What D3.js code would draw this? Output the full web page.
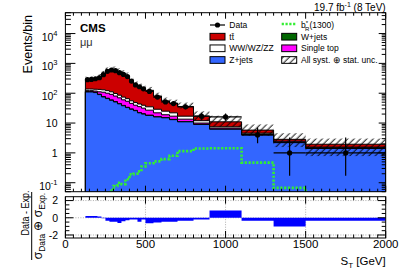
<!DOCTYPE html>
<html>
<head>
<meta charset="utf-8">
<script src="https://cdn.jsdelivr.net/npm/d3@7"></script>
<style>
body { margin: 0; background: #fff; }
text { font-family: "Liberation Sans", Arial, Helvetica, sans-serif; }
</style>
</head>
<body>
<script>
// bins (GeV)
const binEdges = [125,150,175,200,225,250,275,300,325,350,375,400,425,450,475,500,550,600,650,700,800,900,1100,1300,1500,2000];

// backgrounds, events/bin
const zJets     = [110,110,105,90,75,66,58,51,44,38,33,29,26,22,20,18,16,15,13,11,9,6.2,4.0,2.2,1.4];
const wJets     = [3,3,3,2.5,2,2,1.5,1.2,1,1,0.8,0.7,0.6,0.5,0.5,0.4,0.3,0.3,0.3,0.2,0.15,0.1,0.05,0.03,0.02];
const singleTop = [9,9,10,19,31,32,32,28,25,21,20,16,13,13,11,8.6,5.7,3.7,3.7,2.3,0.85,0.5,0.25,0.12,0.08];
const diboson   = [16,16,18,23,22,22,20,18,16,14,12,10,9,8,8,8,7,6,5,3.5,2,0.7,0.3,0.1,0.06];
const ttbar     = [139,142,164,205,300,438,518,502,434,376,314,214,151,126,110,90,51,30,25,19,5,3.5,1.2,0.4,0.39];

// relative uncertainty on the total (up / down)
const uncUp   = [0.3,0.3,0.3,0.3,0.3,0.3,0.3,0.3,0.3,0.3,0.3,0.3,0.3,0.3,0.3,0.3,0.3,0.3,0.3,0.35,0.45,0.6,0.55,0.6,0.55];
const uncDown = [0.1,0.1,0.1,0.1,0.1,0.1,0.1,0.1,0.1,0.1,0.1,0.1,0.1,0.1,0.1,0.12,0.12,0.12,0.12,0.15,0.3,0.32,0.35,0.45,0.6];

// signal b*_R (1300)
const signal = [0.02,0.02,0.02,0.02,0.02,0.02,0.055,0.078,0.10,0.09,0.13,0.19,0.20,0.24,0.35,0.45,0.52,0.62,0.80,1.15,1.4,1.43,0.47,0.067,0.02];

// observed
const dataCounts = [285,290,305,330,420,540,600,570,490,425,360,255,190,165,140,115,74,51,45,35,17,16,4,1,1];

// (data - exp) / (sigma_data (+) sigma_exp)
const pull = [0.2,0.2,0.2,0.15,-0.05,-0.35,-0.45,-0.45,-0.6,-0.4,-0.3,-0.2,-0.2,-0.45,-0.2,-0.65,-0.55,-0.45,-0.45,-0.35,-0.2,0.85,-0.35,-1.0,-0.35];

const xTickValues = [0,500,1000,1500,2000];
const yTickValues = [0.1,1,10,100,1000,10000];
const yTickLabels = [["10","-1"],["1",""],["10",""],["10","2"],["10","3"],["10","4"]];
const ratioTickValues = [-2,0,2];

const W = 407, H = 276;
const left = 65.4, right = 385.7;
const mainTop = 12.7, mainBottom = 191.7;
const ratioTop = 196.7, ratioBottom = 238;

const x = d3.scaleLinear().domain([0, 2000]).range([left, right]);
const y = d3.scaleLog().domain([0.05, 5e4]).range([mainBottom, mainTop]);
const yr = d3.scaleLinear().domain([-2.35, 2.45]).range([ratioBottom, ratioTop]);

const svg = d3.select("body").append("svg")
    .attr("width", W)
    .attr("height", H);

svg.append("rect").attr("width", W).attr("height", H).attr("fill", "#fff");

const defs = svg.append("defs");
defs.append("clipPath").attr("id", "mainClip")
    .append("rect")
    .attr("x", left).attr("y", mainTop)
    .attr("width", right - left).attr("height", mainBottom - mainTop);
defs.append("clipPath").attr("id", "ratioClip")
    .append("rect")
    .attr("x", left).attr("y", ratioTop)
    .attr("width", right - left).attr("height", ratioBottom - ratioTop);

const hatch = defs.append("pattern")
    .attr("id", "hatch")
    .attr("patternUnits", "userSpaceOnUse")
    .attr("width", 4.5).attr("height", 4.5)
    .attr("patternTransform", "rotate(45)");
hatch.append("line")
    .attr("x1", 2).attr("y1", 0).attr("x2", 2).attr("y2", 4.5)
    .attr("stroke", "#000").attr("stroke-width", 0.9);

function stepPoints(vals) {
    const pts = [];
    vals.forEach((v, i) => {
        pts.push([binEdges[i], v]);
        pts.push([binEdges[i + 1], v]);
    });
    return pts;
}

// ---------- main pad ----------
const main = svg.append("g").attr("clip-path", "url(#mainClip)");

const order = [
    { vals: zJets, color: "#3366ff" },
    { vals: wJets, color: "#006600" },
    { vals: singleTop, color: "#ff00ff" },
    { vals: diboson, color: "#ffffff" },
    { vals: ttbar, color: "#cc0000" }
];
let cum = zJets.map(() => 0);
const stacked = order.map(s => {
    cum = cum.map((c, i) => c + s.vals[i]);
    return { color: s.color, tops: cum.slice() };
});
const total = cum.slice();

const stackArea = d3.area()
    .x(d => x(d[0]))
    .y0(mainBottom + 2)
    .y1(d => y(d[1]));

stacked.slice().reverse().forEach(s => {
    main.append("path")
        .attr("d", stackArea(stepPoints(s.tops)))
        .attr("fill", s.color)
        .attr("stroke", "#000")
        .attr("stroke-width", 1);
});

// uncertainty band
main.selectAll("rect.unc")
    .data(total)
    .enter()
    .append("rect")
    .attr("class", "unc")
    .attr("x", (d, i) => x(binEdges[i]))
    .attr("width", (d, i) => x(binEdges[i + 1]) - x(binEdges[i]))
    .attr("y", (d, i) => y(d * (1 + uncUp[i])))
    .attr("height", (d, i) => y(d * (1 - uncDown[i])) - y(d * (1 + uncUp[i])))
    .attr("fill", "url(#hatch)");

// signal
main.append("path")
    .attr("d", d3.line().x(d => x(d[0])).y(d => y(d[1]))(stepPoints(signal)))
    .attr("fill", "none")
    .attr("stroke", "#33ee33")
    .attr("stroke-width", 2.6)
    .attr("stroke-dasharray", "2.2,1.6");

// data with Garwood intervals
function poisCdf(n, mu) {
    let lt = -mu, s = Math.exp(lt);
    for (let k = 1; k <= n; k++) {
        lt += Math.log(mu / k);
        s += Math.exp(lt);
    }
    return s;
}
function bisect(f, lo, hi) {
    for (let i = 0; i < 60; i++) {
        const mid = (lo + hi) / 2;
        if (f(mid)) lo = mid; else hi = mid;
    }
    return (lo + hi) / 2;
}
const alpha = 0.1587;
const dataPts = dataCounts.map((n, i) => {
    const hi = n + 10 * Math.sqrt(n + 1) + 10;
    const up = bisect(mu => poisCdf(n, mu) > alpha, 0, hi);
    const lo = n === 0 ? 0 : bisect(mu => 1 - poisCdf(n - 1, mu) < alpha, 0, hi);
    return { n: n, lo: lo, up: up, x0: binEdges[i], x1: binEdges[i + 1] };
});

const dataG = main.append("g");
dataPts.forEach(d => {
    const cx = x((d.x0 + d.x1) / 2);
    dataG.append("line")
        .attr("x1", cx).attr("x2", cx)
        .attr("y1", y(Math.max(d.lo, 0.01))).attr("y2", y(d.up))
        .attr("stroke", "#000").attr("stroke-width", 1.2);
    dataG.append("line")
        .attr("x1", x(d.x0)).attr("x2", x(d.x1))
        .attr("y1", y(d.n)).attr("y2", y(d.n))
        .attr("stroke", "#000").attr("stroke-width", 1.2);
    dataG.append("circle")
        .attr("cx", cx).attr("cy", y(d.n)).attr("r", 2.6)
        .attr("fill", "#000");
});

// frame
svg.append("rect")
    .attr("x", left).attr("y", mainTop)
    .attr("width", right - left).attr("height", mainBottom - mainTop)
    .attr("fill", "none").attr("stroke", "#000").attr("stroke-width", 1);

const axes = svg.append("g").attr("stroke", "#000").attr("stroke-width", 1);

// x ticks, both pads
for (let v = 0; v <= 2000; v += 50) {
    const major = v % 500 === 0;
    const px = x(v);
    const lm = major ? 6 : 3;
    const lr = major ? 7 : 3.5;
    axes.append("line").attr("x1", px).attr("x2", px).attr("y1", mainBottom).attr("y2", mainBottom - lm);
    axes.append("line").attr("x1", px).attr("x2", px).attr("y1", mainTop).attr("y2", mainTop + lm);
    axes.append("line").attr("x1", px).attr("x2", px).attr("y1", ratioBottom).attr("y2", ratioBottom - lr);
    axes.append("line").attr("x1", px).attr("x2", px).attr("y1", ratioTop).attr("y2", ratioTop + lr);
}

// log y ticks
for (let e = -2; e <= 4; e++) {
    for (let m = 1; m <= 9; m++) {
        const v = m * Math.pow(10, e);
        if (v < 0.05 || v > 5e4) continue;
        const py = y(v);
        const major = m === 1;
        axes.append("line").attr("x1", left).attr("x2", left + (major ? 10 : 5.5)).attr("y1", py).attr("y2", py);
        axes.append("line").attr("x1", right).attr("x2", right - (major ? 7 : 4)).attr("y1", py).attr("y2", py);
    }
}

// y labels
yTickValues.forEach((v, i) => {
    const lab = yTickLabels[i];
    const t = svg.append("text")
        .attr("x", 57.5)
        .attr("y", y(v) + (lab[1] ? 7 : 4))
        .attr("text-anchor", "end")
        .style("font-size", "10.5px");
    t.append("tspan").text(lab[0]);
    if (lab[1]) {
        t.append("tspan").attr("dy", -5).style("font-size", "7.5px").text(lab[1]);
    }
});

svg.append("text")
    .attr("transform", "translate(31.5,15) rotate(-90)")
    .attr("text-anchor", "end")
    .style("font-size", "12.5px")
    .text("Events/bin");

svg.append("text")
    .attr("x", 80).attr("y", 31.5)
    .style("font-size", "11.5px").style("font-weight", "bold")
    .text("CMS");
svg.append("text")
    .attr("x", 80).attr("y", 46)
    .style("font-size", "11px").attr("fill", "#333")
    .text("μμ");

const lumi = svg.append("text")
    .attr("x", right).attr("y", 11)
    .attr("text-anchor", "end")
    .style("font-size", "10px");
lumi.append("tspan").text("19.7 fb");
lumi.append("tspan").attr("dy", -4).style("font-size", "7px").text("-1");
lumi.append("tspan").attr("dy", 4).text(" (8 TeV)");

// ---------- legend ----------
const legend = svg.append("g");
const rows = [25, 36.7, 48.3, 60];
const col1 = 210, col2 = 281.7, boxW = 15, boxH = 6.7;

function legText(cx, cy) {
    return legend.append("text")
        .attr("x", cx + boxW + 4.3)
        .attr("y", cy + 3.1)
        .style("font-size", "8.5px");
}

legend.append("line")
    .attr("x1", col1).attr("x2", col1 + boxW)
    .attr("y1", rows[0]).attr("y2", rows[0])
    .attr("stroke", "#000").attr("stroke-width", 1.2);
legend.append("circle").attr("cx", col1 + boxW / 2).attr("cy", rows[0]).attr("r", 2.6).attr("fill", "#000");
legText(col1, rows[0]).text("Data");

legend.append("line")
    .attr("x1", col2).attr("x2", col2 + boxW)
    .attr("y1", rows[0] - 1).attr("y2", rows[0] - 1)
    .attr("stroke", "#33ee33").attr("stroke-width", 2.6)
    .attr("stroke-dasharray", "2.2,1.6");
const sigT = legText(col2, rows[0]);
sigT.append("tspan").text("b");
sigT.append("tspan").attr("dy", -3).style("font-size", "6px").text("*");
sigT.append("tspan").attr("dx", -3).attr("dy", 5.5).style("font-size", "6px").text("R");
sigT.append("tspan").attr("dy", -2.5).text("(1300)");

const boxes = [
    { c: col1, r: rows[1], fill: "#cc0000", label: "tt\u0304" },
    { c: col1, r: rows[2], fill: "#ffffff", label: "WW/WZ/ZZ" },
    { c: col1, r: rows[3], fill: "#3366ff", label: "Z+jets" },
    { c: col2, r: rows[1], fill: "#006600", label: "W+jets" },
    { c: col2, r: rows[2], fill: "#ff00ff", label: "Single top" },
    { c: col2, r: rows[3], fill: "url(#hatch)", label: "All syst. \u2295 stat. unc." }
];
boxes.forEach(b => {
    legend.append("rect")
        .attr("x", b.c).attr("y", b.r - boxH / 2)
        .attr("width", boxW).attr("height", boxH)
        .attr("fill", b.fill)
        .attr("stroke", "#000").attr("stroke-width", 1);
    legText(b.c, b.r).text(b.label);
});

// ---------- ratio pad ----------
const grid = svg.append("g")
    .attr("stroke", "#999")
    .attr("stroke-width", 0.8)
    .attr("stroke-dasharray", "1,1.5");
[-2, 0, 2].forEach(v => {
    grid.append("line").attr("x1", left).attr("x2", right).attr("y1", yr(v)).attr("y2", yr(v));
});
[500, 1000, 1500].forEach(v => {
    grid.append("line").attr("x1", x(v)).attr("x2", x(v)).attr("y1", ratioTop).attr("y2", ratioBottom);
});

svg.append("g").attr("clip-path", "url(#ratioClip)")
    .append("path")
    .attr("d", d3.area().x(d => x(d[0])).y0(yr(0)).y1(d => yr(d[1]))(stepPoints(pull)))
    .attr("fill", "#0000ff");

svg.append("rect")
    .attr("x", left).attr("y", ratioTop)
    .attr("width", right - left).attr("height", ratioBottom - ratioTop)
    .attr("fill", "none").attr("stroke", "#000").attr("stroke-width", 1);

for (let v = -2; v <= 2; v += 0.5) {
    const major = v % 2 === 0;
    axes.append("line").attr("x1", left).attr("x2", left + (major ? 8 : 4)).attr("y1", yr(v)).attr("y2", yr(v));
    axes.append("line").attr("x1", right).attr("x2", right - (major ? 8 : 4)).attr("y1", yr(v)).attr("y2", yr(v));
}
axes.raise();

ratioTickValues.forEach(v => {
    svg.append("text")
        .attr("x", 58).attr("y", yr(v) + 3.8)
        .attr("text-anchor", "end")
        .style("font-size", "10.5px")
        .text(v);
});

xTickValues.forEach(v => {
    svg.append("text")
        .attr("x", x(v)).attr("y", 248.3)
        .attr("text-anchor", "middle")
        .style("font-size", "11.5px")
        .text(v);
});

const xt = svg.append("text")
    .attr("x", right).attr("y", 265)
    .attr("text-anchor", "end")
    .style("font-size", "11.5px");
xt.append("tspan").text("S");
xt.append("tspan").attr("dy", 2.5).style("font-size", "8px").text("T");
xt.append("tspan").attr("dy", -2.5).text(" [GeV]");

// ratio title
const rt = svg.append("g").attr("transform", "translate(31.7,226) rotate(-90)");
rt.append("text")
    .attr("x", 13).attr("y", -3.2)
    .attr("text-anchor", "middle")
    .attr("textLength", 45)
    .attr("lengthAdjust", "spacingAndGlyphs")
    .style("font-size", "11px")
    .text("Data - Exp.");
rt.append("line")
    .attr("x1", -34).attr("x2", 34)
    .attr("y1", 0).attr("y2", 0)
    .attr("stroke", "#000").attr("stroke-width", 1);
const den = rt.append("text")
    .attr("x", 0).attr("y", 10.5)
    .attr("text-anchor", "middle")
    .style("font-size", "12px");
den.append("tspan").text("σ");
den.append("tspan").attr("dy", 2.5).style("font-size", "8.5px").text("Data");
den.append("tspan").attr("dy", -2.5).text(" ⊕ σ");
den.append("tspan").attr("dy", 2.5).style("font-size", "8.5px").text("Exp.");
</script>
</body>
</html>
